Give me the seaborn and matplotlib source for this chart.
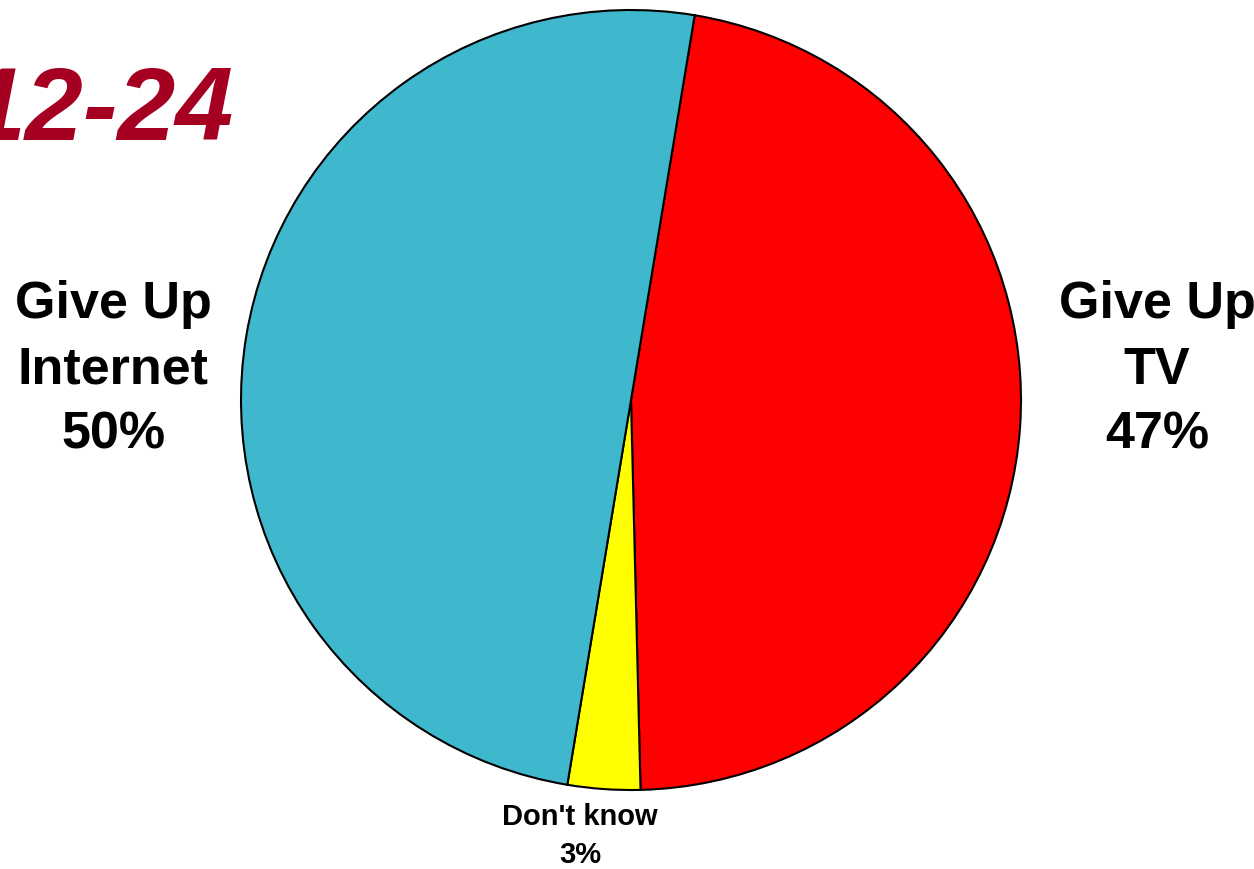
import matplotlib
matplotlib.use("Agg")
import matplotlib.pyplot as plt
import seaborn as sns

sns.set_style("white")
plt.rcParams['font.family'] = ['Liberation Sans', 'DejaVu Sans']
plt.rcParams['text.color'] = 'black'

categories = ["Give Up TV", "Don't know", "Give Up Internet"]
values = [47, 3, 50]
colors = ["#FF0000", "#FFFF00", "#3FB8CD"]
title = "12-24"

W, H = 1254, 869
fig = plt.figure(figsize=(W / 100, H / 100), dpi=100)
cx, cy, r = 631, 400, 390
ax = fig.add_axes([(cx - r) / W, (H - cy - r) / H, 2 * r / W, 2 * r / H])
ax.pie(values, colors=colors, startangle=80.6, counterclock=False,
       wedgeprops=dict(edgecolor="black", linewidth=1.5), radius=1.0)
ax.set_xlim(-1.0, 1.0)
ax.set_ylim(-1.0, 1.0)
ax.set_aspect("equal")
ax.axis("off")

def px(x, y):
    return x / W, 1 - y / H

fig.text(*px(113, 370), f"Give Up\nInternet\n{values[2]}%", ha="center", va="center",
         fontsize=37.5, fontweight="bold", linespacing=1.43, color="black")
fig.text(*px(1157, 370), f"Give Up\nTV\n{values[0]}%", ha="center", va="center",
         fontsize=37.5, fontweight="bold", linespacing=1.43, color="black")
fig.text(*px(580, 836), f"Don't know\n{values[1]}%", ha="center", va="center",
         fontsize=21, fontweight="bold", linespacing=1.45, color="black")
fig.text(*px(233, 113), title, ha="right", va="center", fontsize=75,
         fontweight="bold", fontstyle="italic", color="#A50021")

fig.savefig("out.png", dpi=100)
